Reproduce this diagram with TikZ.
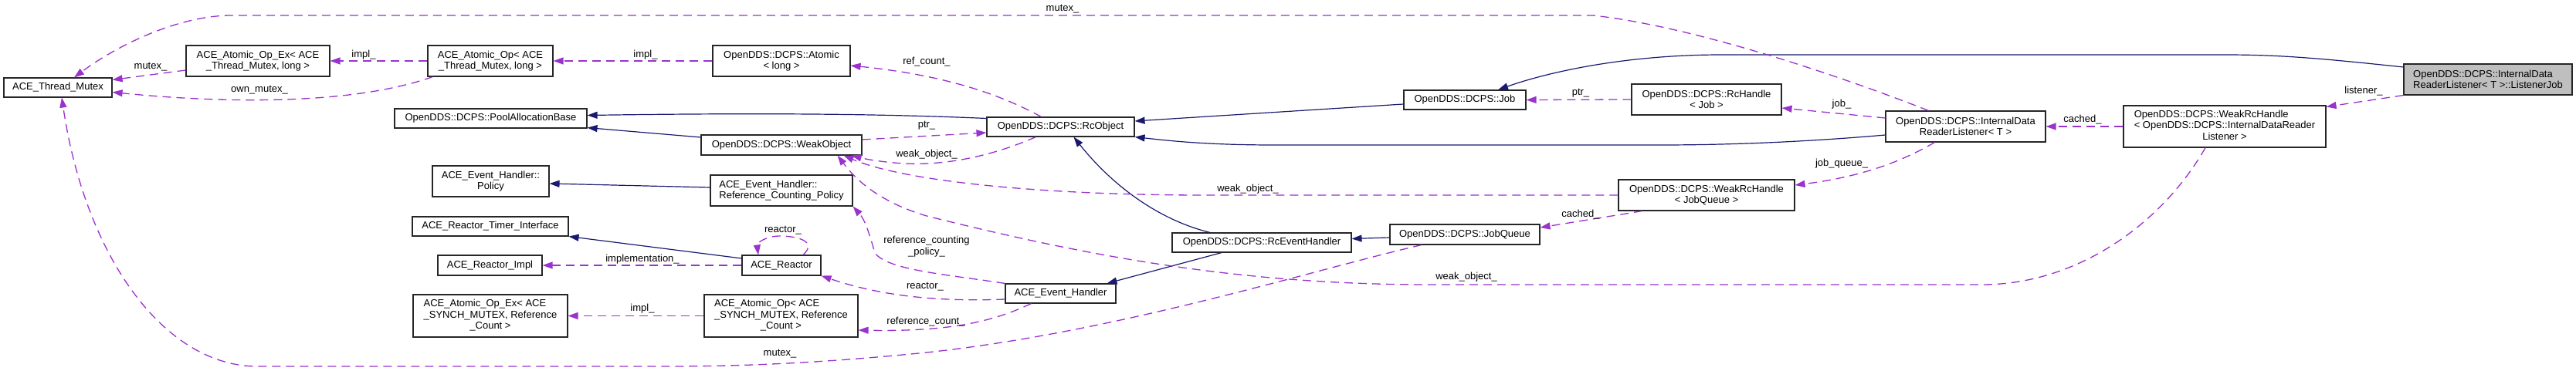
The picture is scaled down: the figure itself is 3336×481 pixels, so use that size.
\documentclass[tikz,border=0pt]{standalone}
\usepackage{fontspec}
\setmainfont{Liberation Sans}
\usetikzlibrary{arrows.meta}
\definecolor{edgeblue}{HTML}{191970}
\definecolor{edgepurple}{HTML}{9A32CD}
\definecolor{selfgray}{HTML}{BFBFBF}
% last line centred, the others flush left
\newcommand{\threeline}[3]{\begin{tabular}{@{}l@{}}#1\\#2\\\multicolumn{1}{@{}c@{}}{#3}\end{tabular}}

\begin{document}
\begin{tikzpicture}[x=1pt,y=-1pt,font=\fontsize{13}{14.5}\selectfont,
    cls/.style={draw=black!85,line width=1.1pt,fill=white,inner sep=0pt,align=center},
    cbox/.style 2 args={cls,minimum width=#1,minimum height=#2},
    inherit/.style={draw=edgeblue,line width=1.2pt,-{Triangle[length=13pt,width=9pt]}},
    uses/.style={draw=edgepurple,line width=1.3pt,dash pattern=on 11pt off 7pt,-{Triangle[length=13pt,width=9pt]}},
    lbl/.style={inner sep=0pt,align=center}]
  \useasboundingbox (0,0) rectangle (3336,481);

  % classes
  \node[cbox={140pt}{25pt}] (tmutex) at (75,113.5) {ACE\_Thread\_Mutex};
  \node[cbox={186pt}{40pt}] (aopexTM) at (334,79) {ACE\_Atomic\_Op\_Ex< ACE\\\_Thread\_Mutex, long >};
  \node[cbox={162pt}{40pt}] (aopTM) at (635,79) {ACE\_Atomic\_Op< ACE\\\_Thread\_Mutex, long >};
  \node[cbox={178pt}{40pt}] (atomic) at (1012,79) {OpenDDS::DCPS::Atomic\\< long >};
  \node[cbox={249pt}{25pt}] (pool) at (635.5,153.5) {OpenDDS::DCPS::PoolAllocationBase};
  \node[cbox={208pt}{26pt}] (weakobj) at (1012,188) {OpenDDS::DCPS::WeakObject};
  \node[cbox={191pt}{25pt}] (rcobj) at (1373.5,164.5) {OpenDDS::DCPS::RcObject};
  \node[cbox={151pt}{40pt}] (policy) at (635.5,235) {ACE\_Event\_Handler::\\Policy};
  \node[cbox={184pt}{40pt},align=left] (refpolicy) at (1012,247) {ACE\_Event\_Handler::\\Reference\_Counting\_Policy};
  \node[cbox={202pt}{25pt}] (timer) at (635,293.5) {ACE\_Reactor\_Timer\_Interface};
  \node[cbox={135pt}{26pt}] (rimpl) at (634.5,344) {ACE\_Reactor\_Impl};
  \node[cbox={102pt}{26pt}] (reactor) at (1012,344) {ACE\_Reactor};
  \node[cbox={200pt}{55pt}] (aopexSY) at (635,409.5) {\threeline{ACE\_Atomic\_Op\_Ex< ACE}{\_SYNCH\_MUTEX, Reference}{\_Count >}};
  \node[cbox={199pt}{55pt}] (aopSY) at (1011.5,409.5) {\threeline{ACE\_Atomic\_Op< ACE}{\_SYNCH\_MUTEX, Reference}{\_Count >}};
  \node[cbox={143pt}{25pt}] (evh) at (1373.5,380.5) {ACE\_Event\_Handler};
  \node[cbox={232pt}{25pt}] (rceh) at (1634,314.5) {OpenDDS::DCPS::RcEventHandler};
  \node[cbox={194pt}{26pt}] (jobq) at (1897,304) {OpenDDS::DCPS::JobQueue};
  \node[cbox={158pt}{25pt}] (job) at (1897,129.5) {OpenDDS::DCPS::Job};
  \node[cbox={194pt}{40pt}] (rchjob) at (2210,129) {OpenDDS::DCPS::RcHandle\\< Job >};
  \node[cbox={228pt}{40pt}] (wrhjq) at (2210,253) {OpenDDS::DCPS::WeakRcHandle\\< JobQueue >};
  \node[cbox={207pt}{40pt}] (idrl) at (2545.5,164) {OpenDDS::DCPS::InternalData\\ReaderListener< T >};
  \node[cbox={262pt}{54pt}] (wrhidrl) at (2881,164) {\threeline{OpenDDS::DCPS::WeakRcHandle}{< OpenDDS::DCPS::InternalDataReader}{Listener >}};
  \node[cbox={218pt}{40pt},fill=selfgray,align=left] (ljob) at (3222,103) {OpenDDS::DCPS::InternalData\\ReaderListener< T >::ListenerJob};

  % inheritance
  \draw[inherit] ([yshift=16pt]ljob.west) .. controls (3000,75) and (2950,71) .. (2880,71)
    -- (2230,71) .. controls (2100,71) and (2000,95) .. ([xshift=43pt]job.north);
  \draw[inherit] ([yshift=-5.5pt]job.west) -- ([yshift=7.5pt]rcobj.east);
  \draw[inherit] ([yshift=-11pt]idrl.west) .. controls (2350,183) and (2250,188) .. (2150,188)
    -- (1650,188) .. controls (1560,188) and (1510,182) .. (rcobj.south east);
  \draw[inherit] ([yshift=11pt]rcobj.west) .. controls (1150,148) and (1000,146) .. ([yshift=4pt]pool.east);
  \draw[inherit] ([yshift=10pt]weakobj.west) -- ([yshift=1pt]pool.south east);
  \draw[inherit] ([xshift=-67pt]rceh.north) .. controls (1500,285) and (1440,240) .. ([xshift=17pt]rcobj.south);
  \draw[inherit] ([yshift=-4pt]jobq.west) -- ([yshift=5pt]rceh.east);
  \draw[inherit] ([xshift=-52pt]rceh.south) -- ([xshift=60pt]evh.north);
  \draw[inherit] ([yshift=4pt]refpolicy.west) -- ([yshift=-3pt]policy.east);
  \draw[inherit] ([yshift=9pt]reactor.west) -- (timer.south east);

  % members
  \draw[uses] ([xshift=-48pt]idrl.north) .. controls (2400,105) and (2200,35) .. (2063,20)
    -- (300,20) .. controls (230,20) and (150,60) .. ([xshift=21pt]tmutex.north);
  \node[lbl] (lmutexA) at (1376,12) {mutex\_};
  \draw[uses] ([yshift=-12pt]aopexTM.west) -- ([yshift=10pt]tmutex.east);
  \node[lbl] (lmutexB) at (195,87) {mutex\_};
  \draw[uses] ([xshift=7pt]aopTM.south west) .. controls (460,135) and (300,135) .. ([yshift=-6pt]tmutex.east);
  \node[lbl] (lownmutex) at (336,117) {own\_mutex\_};
  \draw[uses] (aopTM.west) -- (aopexTM.east);
  \node[lbl] (limplA) at (471,71) {impl\_};
  \draw[uses] (atomic.west) -- (aopTM.east);
  \node[lbl] (limplB) at (836,71) {impl\_};
  \draw[uses] ([xshift=-25pt]rcobj.north) .. controls (1300,125) and (1230,98) .. ([yshift=-6pt]atomic.east);
  \node[lbl] (lrefcount) at (1200,80) {ref\_count\_};
  \draw[uses] ([yshift=7pt]weakobj.east) -- ([yshift=-7.5pt]rcobj.west);
  \node[lbl] (lptrA) at (1200,163) {ptr\_};
  \draw[uses] ([xshift=-32pt]rcobj.south) .. controls (1290,200) and (1230,215) .. (1170,212)
    .. controls (1140,210) and (1120,206) .. ([xshift=-14pt]weakobj.south east);
  \node[lbl] (lweakA) at (1200,200) {weak\_object\_};
  \draw[uses] (wrhjq.west) -- (1560,253) .. controls (1350,253) and (1170,235) .. ([xshift=-24pt]weakobj.south east);
  \node[lbl] (lweakB) at (1616,245) {weak\_object\_};
  \draw[uses] ([xshift=-25pt]wrhidrl.south) .. controls (2800,290) and (2690,369) .. (2567,369)
    -- (1850,369) .. controls (1600,369) and (1400,330) .. (1200,280)
    .. controls (1140,262) and (1110,235) .. ([xshift=-32pt]weakobj.south east);
  \node[lbl] (lweakC) at (1899,359) {weak\_object\_};
  \draw[uses] (evh.north west) .. controls (1220,355) and (1150,350) .. (1133,328)
    .. controls (1125,300) and (1120,285) .. (refpolicy.south east);
  \node[lbl] (lrcpolicy) at (1200,319.5) {reference\_counting\\\_policy\_};
  \draw[uses] ([yshift=-7.5pt]evh.west) .. controls (1200,392) and (1130,380) .. (reactor.south east);
  \node[lbl] (lreactorA) at (1198,372) {reactor\_};
  \draw[uses] ([xshift=28pt]reactor.north) .. controls (1060,312) and (1030,306) .. (1010,306)
    .. controls (992,306) and (980,315) .. ([xshift=-30pt]reactor.north);
  \node[lbl] (lreactorB) at (1014,299) {reactor\_};
  \draw[uses] (reactor.west) -- (rimpl.east);
  \node[lbl] (limpl) at (832,336) {implementation\_};
  \draw[uses] ([xshift=-38pt]evh.south) .. controls (1280,420) and (1220,430) .. ([yshift=-18.5pt]aopSY.east);
  \node[lbl] (lrefcnt) at (1199,417) {reference\_count\_};
  \draw[uses] (aopSY.west) -- (aopexSY.east);
  \node[lbl] (limplC) at (832,400) {impl\_};
  \draw[uses] ([xshift=-56pt]jobq.south) .. controls (1700,350) and (1450,430) .. (1200,457)
    .. controls (1050,472) and (950,475) .. (860,475) -- (330,475)
    .. controls (210,472) and (110,330) .. ([xshift=5pt]tmutex.south);
  \node[lbl] (lmutexC) at (1010,459) {mutex\_};
  \draw[uses] ([yshift=11pt]idrl.west) -- ([yshift=-11pt]rchjob.east);
  \node[lbl] (ljobm) at (2385,135) {job\_};
  \draw[uses] (rchjob.west) -- (job.east);
  \node[lbl] (lptrB) at (2047,121) {ptr\_};
  \draw[uses] ([xshift=-40pt]idrl.south) .. controls (2470,205) and (2420,228) .. ([yshift=13pt]wrhjq.east);
  \node[lbl] (ljobqueue) at (2385,212) {job\_queue\_};
  \draw[uses] ([xshift=-83pt]wrhjq.south) -- ([yshift=9pt]jobq.east);
  \node[lbl] (lcachedA) at (2047,278) {cached\_};
  \draw[uses] (wrhidrl.west) -- (idrl.east);
  \node[lbl] (lcachedB) at (2697,155) {cached\_};
  \draw[uses] (ljob.south west) -- ([yshift=-2pt]wrhidrl.north east);
  \node[lbl] (llistener) at (3061,118) {listener\_};
\end{tikzpicture}
\end{document}
